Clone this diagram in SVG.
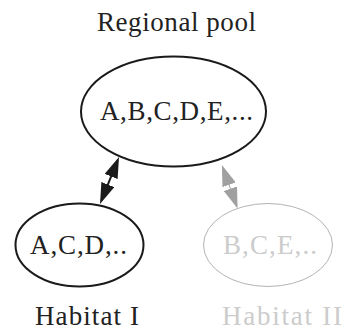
<svg xmlns="http://www.w3.org/2000/svg" width="345" height="332" viewBox="0 0 345 332">
  <style>
    .t { font-family: "Liberation Serif", "DejaVu Serif", serif; font-size: 27px; }
    .dark { fill: #222222; }
    .light { fill: #cccccc; }
    .node-dark { fill: none; stroke: #1a1a1a; stroke-width: 2; }
    .node-light { fill: none; stroke: #b4b4b4; stroke-width: 1; }
  </style>
  <defs>
    <marker id="headBlack" viewBox="0 0 21 14" refX="17" refY="7" markerWidth="21" markerHeight="14" markerUnits="userSpaceOnUse" orient="auto-start-reverse">
      <path d="M0,0 L21,7 L0,14 z" fill="#1a1a1a"/>
    </marker>
    <marker id="headGray" viewBox="0 0 21 14" refX="17" refY="7" markerWidth="21" markerHeight="14" markerUnits="userSpaceOnUse" orient="auto-start-reverse">
      <path d="M0,0 L21,7 L0,14 z" fill="#a0a0a0"/>
    </marker>
  </defs>

  <text class="t dark" x="97" y="31" textLength="159" lengthAdjust="spacing">Regional pool</text>

  <g id="regional">
    <ellipse class="node-dark" cx="173.5" cy="111.5" rx="92.5" ry="55"/>
    <text class="t dark" x="100" y="120" textLength="153" lengthAdjust="spacing">A,B,C,D,E,...</text>
  </g>

  <g id="habitat1">
    <ellipse class="node-dark" cx="79.5" cy="245" rx="64" ry="41.5"/>
    <text class="t dark" x="30" y="254" textLength="97" lengthAdjust="spacing">A,C,D,..</text>
    <text class="t dark" x="35" y="325" font-size="26" textLength="104" lengthAdjust="spacing">Habitat I</text>
  </g>

  <g id="habitat2">
    <ellipse class="node-light" cx="268" cy="245" rx="64.5" ry="41.5"/>
    <text class="t light" x="223" y="254" textLength="94" lengthAdjust="spacing">B,C,E,..</text>
    <text class="t light" x="222" y="325" font-size="26" textLength="120" lengthAdjust="spacing">Habitat II</text>
  </g>

  <g id="connectors">
    <line x1="117.5" y1="160.7" x2="101.5" y2="200.3" stroke="#1a1a1a" stroke-width="2" marker-start="url(#headBlack)" marker-end="url(#headBlack)"/>
    <line x1="223.3" y1="168.8" x2="236.2" y2="204.7" stroke="#a0a0a0" stroke-width="1" marker-start="url(#headGray)" marker-end="url(#headGray)"/>
  </g>
</svg>
